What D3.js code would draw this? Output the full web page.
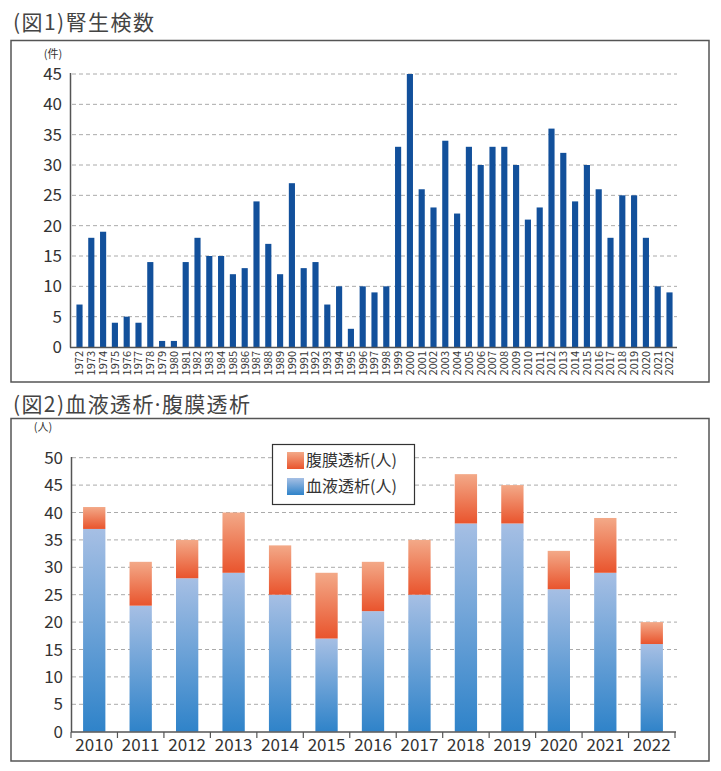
<!DOCTYPE html>
<html><head><meta charset="utf-8">
<script src="https://cdn.jsdelivr.net/npm/d3@7"></script>
<style>
body{margin:0;background:#fff;}
text{font-family:"Noto Sans CJK JP","Noto Sans",sans-serif;}
</style></head>
<body>
<svg id="c" width="721" height="771"></svg>
<script>
// ---- Data: Figure 1 (kidney biopsies per year)
const years1 = d3.range(1972, 2023).map(String);
const biopsies = [7,18,19,4,5,4,14,1,1,14,18,15,15,12,13,24,17,12,27,13,14,7,10,3,10,9,10,33,45,26,23,34,22,33,30,33,33,30,21,23,36,32,24,30,26,18,25,25,18,10,9];
const ticks1 = [0,5,10,15,20,25,30,35,40,45];

// ---- Data: Figure 2 (dialysis)
const years2 = ["2010","2011","2012","2013","2014","2015","2016","2017","2018","2019","2020","2021","2022"];
const hemodialysis = [37,23,28,29,25,17,22,25,38,38,26,29,16];
const peritoneal   = [4,8,7,11,9,12,9,10,9,7,7,10,4];
const ticks2 = [0,5,10,15,20,25,30,35,40,45,50];
const seriesNames = ["腹膜透析(人)","血液透析(人)"];

const svg = d3.select("#c");
const defs = svg.append("defs");
function grad(id, top, bottom){
  const g = defs.append("linearGradient").attr("id", id).attr("x1",0).attr("y1",0).attr("x2",0).attr("y2",1);
  g.append("stop").attr("offset","0%").attr("stop-color", top);
  g.append("stop").attr("offset","100%").attr("stop-color", bottom);
}
grad("gBlue", "#a6bfe4", "#2f83c9");
grad("gOrange", "#f3a988", "#e9542d");

const txt = "#333";
function title(x, y, parts, target){
  const t = svg.append("text").attr("x",x).attr("y",y).attr("font-size",21).attr("fill","#444");
  parts.forEach(p=>{
    const s = t.append("tspan").text(p.t);
    if(p.f) s.style("font-family", p.f);
  });
  const n = parts.map(p=>p.t).join("").length;
  const w = t.node().getComputedTextLength();
  t.attr("letter-spacing", (target - w) / (n - 1));
  return t;
}

// ================= Figure 1 =================
title(13, 30, [{t:"(図1)腎生検数"}], 141);
svg.append("rect").attr("x",11).attr("y",40.5).attr("width",698).attr("height",341.5)
  .attr("fill","none").attr("stroke","#555").attr("stroke-width",1.5);

const y1 = d3.scaleLinear().domain([0,45]).range([347,74]);
const x1 = d3.scaleBand().domain(years1).range([73.6,675.4]).paddingInner(0.48).paddingOuter(0.24);
const g1 = svg.append("g");
g1.selectAll("line.grid").data(ticks1.filter(d=>d>0)).join("line")
  .attr("x1",72).attr("x2",677).attr("y1",d=>y1(d)).attr("y2",d=>y1(d))
  .attr("stroke","#aaa").attr("stroke-dasharray","4,3").attr("stroke-width",1);
g1.selectAll("rect.bar").data(biopsies).join("rect")
  .attr("x",(d,i)=>x1(years1[i])).attr("width",x1.bandwidth())
  .attr("y",d=>y1(d)).attr("height",d=>y1(0)-y1(d)).attr("fill","#12509b");
g1.append("line").attr("x1",70.5).attr("x2",70.5).attr("y1",73).attr("y2",347.5).attr("stroke","#555").attr("stroke-width",1.5);
g1.append("line").attr("x1",70).attr("x2",677).attr("y1",347.5).attr("y2",347.5).attr("stroke","#555").attr("stroke-width",1.5);
g1.selectAll("text.yt").data(ticks1).join("text")
  .attr("x",62).attr("y",d=>y1(d)).attr("dy","0.36em").attr("text-anchor","end")
  .attr("font-size",17).attr("fill",txt).text(d=>d);
g1.append("text").attr("x",53).attr("y",58).attr("text-anchor","middle").attr("font-size",11).attr("fill",txt).text("(件)");
g1.selectAll("text.xt").data(years1).join("text")
  .attr("transform",d=>`translate(${x1(d)+x1.bandwidth()/2},351) rotate(-90)`)
  .attr("text-anchor","end").attr("dy","0.36em").attr("font-size",11).attr("fill",txt).text(d=>d);

// ================= Figure 2 =================
title(13, 412, [{t:"(図2)血液透析"},{t:"·",f:"'Noto Sans'"},{t:"腹膜透析"}], 237);
svg.append("rect").attr("x",11).attr("y",418.5).attr("width",698).attr("height",342.5)
  .attr("fill","none").attr("stroke","#555").attr("stroke-width",1.5);

const y2 = d3.scaleLinear().domain([0,50]).range([731.7,457.7]);
const xAxis2 = d3.scaleBand().domain(years2).range([71,675]).padding(0);
const x2 = d3.scaleBand().domain(years2).range([71,675]).paddingInner(0.52).paddingOuter(0.26);
const g2 = svg.append("g");
g2.selectAll("line.grid").data(ticks2.filter(d=>d>0)).join("line")
  .attr("x1",72).attr("x2",677).attr("y1",d=>y2(d)).attr("y2",d=>y2(d))
  .attr("stroke","#aaa").attr("stroke-dasharray","4,3").attr("stroke-width",1);
const stackData = years2.map((y,i)=>({year:y, hemo:hemodialysis[i], peri:peritoneal[i]}));
const stack = d3.stack().keys(["hemo","peri"])(stackData);
const fills = {hemo:"url(#gBlue)", peri:"url(#gOrange)"};
stack.forEach(layer=>{
  g2.selectAll(null).data(layer).join("rect")
    .attr("x",d=>x2(d.data.year)).attr("width",x2.bandwidth())
    .attr("y",d=>y2(d[1])).attr("height",d=>y2(d[0])-y2(d[1]))
    .attr("fill",fills[layer.key]);
});
g2.append("line").attr("x1",71.5).attr("x2",71.5).attr("y1",457).attr("y2",732).attr("stroke","#555").attr("stroke-width",1.5);
g2.append("line").attr("x1",71).attr("x2",676).attr("y1",732).attr("y2",732).attr("stroke","#555").attr("stroke-width",1.5);
const bounds = years2.map(d=>xAxis2(d)).concat([xAxis2(years2[years2.length-1])+xAxis2.bandwidth()]);
g2.selectAll("line.tk").data(bounds).join("line")
  .attr("x1",d=>d).attr("x2",d=>d).attr("y1",732).attr("y2",738).attr("stroke","#555").attr("stroke-width",1.2);
g2.selectAll("text.yt").data(ticks2).join("text")
  .attr("x",63).attr("y",d=>y2(d)).attr("dy","0.36em").attr("text-anchor","end")
  .attr("font-size",17).attr("fill",txt).text(d=>d);
g2.append("text").attr("x",43).attr("y",431).attr("text-anchor","middle").attr("font-size",11).attr("fill",txt).text("(人)");
g2.selectAll("text.xt").data(years2).join("text")
  .attr("x",d=>xAxis2(d)+xAxis2.bandwidth()/2).attr("y",751).attr("text-anchor","middle")
  .attr("font-size",17).attr("fill",txt).text(d=>d);

// legend
const lg = svg.append("g");
lg.append("rect").attr("x",272.5).attr("y",444.5).attr("width",142).attr("height",60)
  .attr("fill","#fff").attr("stroke","#333").attr("stroke-width",1.2);
const legFills = ["url(#gOrange)","url(#gBlue)"];
seriesNames.forEach((n,i)=>{
  lg.append("rect").attr("x",287).attr("y",452+i*26).attr("width",17).attr("height",17).attr("fill",legFills[i]);
  lg.append("text").attr("x",306).attr("y",460.5+i*26).attr("dy","0.36em").attr("font-size",16).attr("fill",txt).text(n);
});
</script>
</body></html>
